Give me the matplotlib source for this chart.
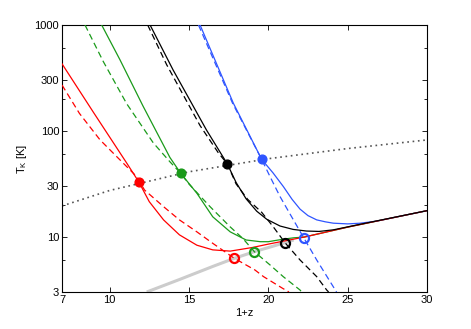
import matplotlib
matplotlib.use("Agg")
import matplotlib.pyplot as plt
from matplotlib.ticker import FixedLocator, NullFormatter

matplotlib.rcParams.update({
    "font.family": ["Liberation Sans", "DejaVu Sans"],
    "font.size": 8,
    "mathtext.default": "regular",
    "xtick.direction": "in",
    "ytick.direction": "in",
    "xtick.top": True,
    "ytick.right": True,
})

# --- data (x = 1+z, y = T_K in K) ---
red_solid_x = [7.0, 9.0, 11.1, 11.85, 12.5, 13.4, 14.4, 15.5, 16.5, 17.6, 19.0, 20.0, 22.25, 25.0, 30.0]
red_solid_y = [430, 148, 49, 32.7, 21.4, 14.4, 10.4, 8.3, 7.5, 7.3, 7.9, 8.5, 9.9, 12.3, 17.6]
red_dash_x = [7.0, 8.1, 9.4, 10.45, 11.7, 12.2, 13.4, 14.4, 15.5, 16.5, 17.86, 19.16, 19.7, 20.9, 21.3]
red_dash_y = [271, 146, 82, 57, 37, 27.6, 19.2, 14.4, 11.1, 8.65, 6.24, 4.84, 4.19, 3.25, 3.0]

green_solid_x = [9.5, 10.65, 12.1, 13.8, 14.48, 15.5, 16.5, 17.6, 18.6, 19.5, 20.0, 20.9, 21.6, 22.25, 25.0, 30.0]
green_solid_y = [1000, 470, 172, 56, 39.7, 25.7, 15.4, 11.1, 9.3, 8.96, 8.96, 9.44, 9.75, 9.9, 12.3, 17.6]
green_dash_x = [8.45, 9.6, 11.08, 12.75, 13.8, 14.48, 14.96, 16.33, 17.59, 18.4, 19.12, 20.11, 20.94, 22.0, 22.1]
green_dash_y = [1000, 452, 180, 77, 51, 39.7, 31.9, 19.2, 12.4, 9.6, 7.21, 5.40, 4.19, 3.13, 3.0]

black_solid_x = [12.55, 14.0, 16.1, 17.42, 17.97, 18.6, 19.27, 19.9, 20.74, 21.57, 22.4, 23.2, 24.1, 25.8, 30.0]
black_solid_y = [1000, 376, 102, 48.6, 32.5, 22.8, 17.4, 14.6, 12.6, 11.7, 11.3, 11.2, 11.6, 13.1, 17.6]
black_dash_x = [12.4, 13.6, 15.7, 16.85, 17.42, 17.97, 18.7, 19.58, 20.31, 21.05, 22.0, 23.05, 23.68, 23.8]
black_dash_y = [1000, 420, 112, 62, 48.6, 31.5, 22.5, 17.0, 12.4, 8.77, 6.02, 4.19, 3.13, 3.0]

blue_solid_x = [15.7, 17.8, 19.58, 20.3, 20.95, 21.5, 22.0, 22.5, 23.05, 23.6, 24.1, 25.0, 25.8, 26.8, 30.0]
blue_solid_y = [1000, 182, 53.8, 40, 29.7, 22.5, 18.2, 15.8, 14.4, 13.8, 13.4, 13.2, 13.4, 14.0, 17.6]
blue_dash_x = [15.6, 17.75, 19.58, 20.11, 20.74, 21.47, 22.25, 23.05, 24.09, 24.3]
blue_dash_y = [1000, 182, 53.8, 36.9, 23.9, 15.4, 9.65, 6.02, 3.37, 3.0]

cmb_x = [7, 10, 15, 20, 25, 30]
cmb_y = [19.5, 27.3, 41, 54.5, 68, 82]

grey_x = [12.34, 14.43, 16.53, 17.86, 19.12, 21.05, 21.6]
grey_y = [3.0, 3.95, 5.25, 6.24, 7.21, 8.77, 9.3]

dot_x = [11.85, 14.48, 17.42, 19.58]
dot_y = [32.7, 39.7, 48.6, 53.8]
ring_x = [17.86, 19.12, 21.05, 22.25]
ring_y = [6.24, 7.21, 8.77, 9.65]

COLORS = ["#ff0000", "#1a9a1a", "#000000", "#2f55ff"]
DASH = (0, (5, 3))

fig = plt.figure(figsize=(4.71, 3.29), dpi=100)
ax = fig.add_axes([0.1316, 0.1125, 0.775, 0.8116])

ax.plot(grey_x, grey_y, color="#cccccc", lw=2.2, solid_capstyle="butt", zorder=1)
ax.plot(cmb_x, cmb_y, color="#555555", lw=1.2, linestyle=(0, (1, 2.2)), zorder=2)

dashed = [(red_dash_x, red_dash_y), (green_dash_x, green_dash_y),
          (black_dash_x, black_dash_y), (blue_dash_x, blue_dash_y)]
solid = [(green_solid_x, green_solid_y, 1), (blue_solid_x, blue_solid_y, 3),
         (red_solid_x, red_solid_y, 0), (black_solid_x, black_solid_y, 2)]

for (xs, ys), c in zip(dashed, COLORS):
    ax.plot(xs, ys, color=c, lw=0.9, linestyle=DASH, zorder=3)
for i, (xs, ys, ci) in enumerate(solid):
    ax.plot(xs, ys, color=COLORS[ci], lw=0.9, zorder=4 + i * 0.1)

for x, y, c in zip(dot_x, dot_y, COLORS):
    ax.plot(x, y, "o", color=c, ms=6.3, mec=c, zorder=6)
for x, y, c in zip(ring_x, ring_y, COLORS):
    ax.plot(x, y, "o", mfc="none", mec=c, ms=6.5, mew=1.6, zorder=6)

ax.set_yscale("log")
ax.set_xlim(7, 30)
ax.set_ylim(3, 1000)
ax.set_xticks([7, 10, 15, 20, 25, 30])
ax.set_xticklabels(["7", "10", "15", "20", "25", "30"])
ax.yaxis.set_major_locator(FixedLocator([3, 10, 30, 100, 300, 1000]))
ax.set_yticklabels(["3", "10", "30", "100", "300", "1000"])
ax.yaxis.set_minor_locator(FixedLocator([6, 20, 60, 200, 600]))
ax.yaxis.set_minor_formatter(NullFormatter())
ax.tick_params(which="major", length=3.5, width=0.6, pad=2)
ax.tick_params(which="minor", length=2.5, width=0.6)
for s in ax.spines.values():
    s.set_linewidth(0.8)

ax.set_xlabel("1+z", labelpad=2)
ax.set_ylabel("T$_K$ [K]", labelpad=4)

fig.savefig("out.png", dpi=100)
